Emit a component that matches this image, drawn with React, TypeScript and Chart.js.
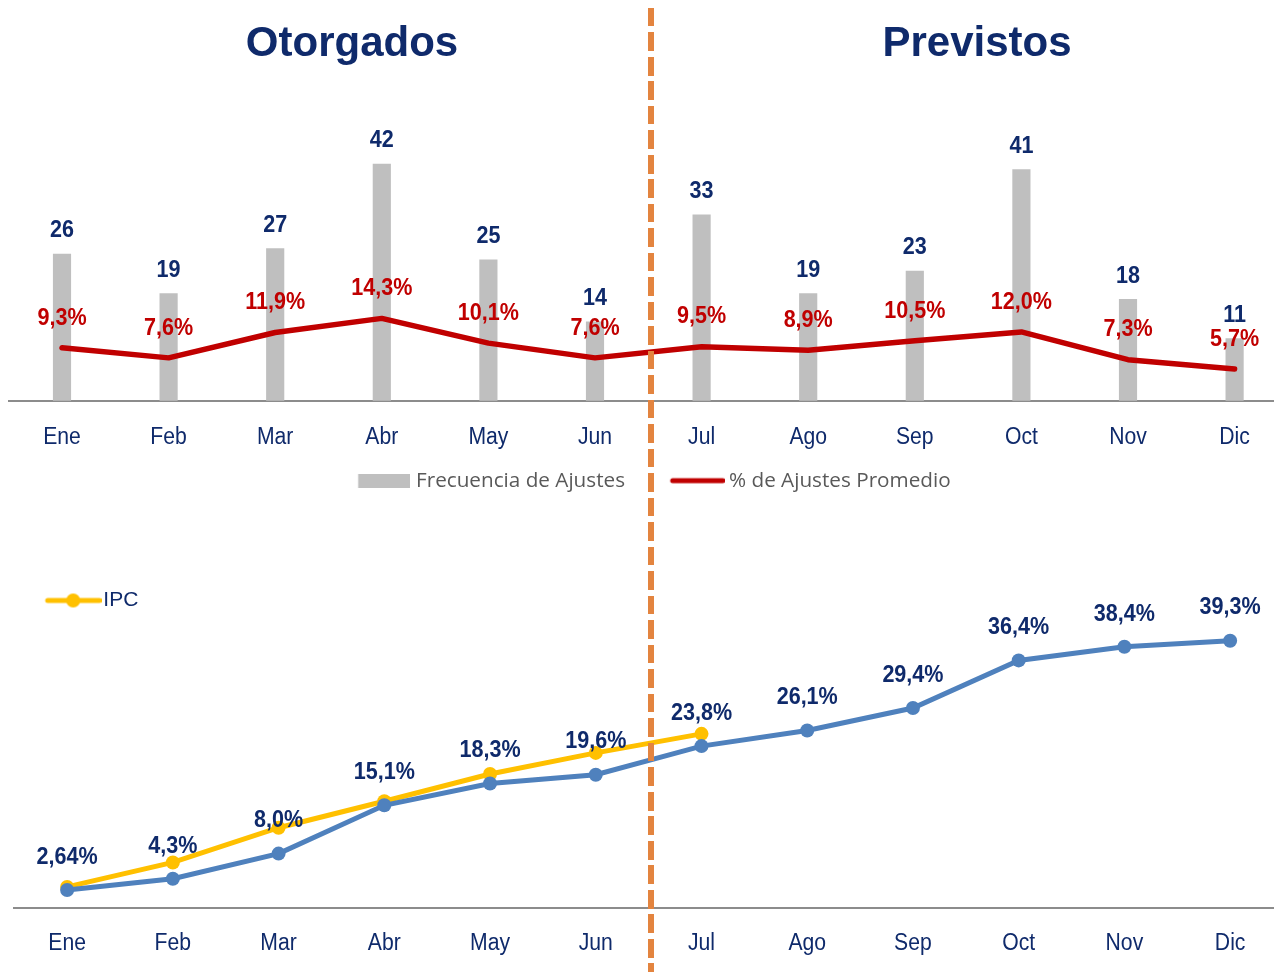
import React, { useEffect, useRef } from 'react';
import { Chart, registerables } from 'chart.js';

Chart.register(...registerables);

// ---------- data ----------
const months = ['Ene', 'Feb', 'Mar', 'Abr', 'May', 'Jun', 'Jul', 'Ago', 'Sep', 'Oct', 'Nov', 'Dic'];
const frecuenciaAjustes = [26, 19, 27, 42, 25, 14, 33, 19, 23, 41, 18, 11];
const ajustePromedio = [9.3, 7.6, 11.9, 14.3, 10.1, 7.6, 9.5, 8.9, 10.5, 12.0, 7.3, 5.7];
const ajusteAcumulado = [2.64, 4.3, 8.0, 15.1, 18.3, 19.6, 23.8, 26.1, 29.4, 36.4, 38.4, 39.3];
const ipc = [3.1, 6.7, 11.8, 15.7, 19.7, 22.8, 25.6, null, null, null, null, null];
const titles = ['Otorgados', 'Previstos'];
const legendTop = ['Frecuencia de Ajustes', '% de Ajustes Promedio'];
const legendBottom = ['IPC'];

// ---------- styles ----------
const NAVY = '#0F2A6B';
const RED = '#C00000';
const GRAY = '#BFBFBF';
const BLUE = '#4F81BD';
const YELLOW = '#FFC000';
const ORANGE = '#E3843F';
const AXIS = '#8C8C8C';
const SANS = '"Liberation Sans", Arial, sans-serif';
const LEGEND_FONT = '"Open Sans", "Noto Sans", sans-serif';
const LEGEND_SIZE = 20.7;
const CANVAS_W = 1290;

const pct = (v: number) => {
  const s = Math.abs(v * 10 - Math.round(v * 10)) < 1e-9 ? v.toFixed(1) : v.toFixed(2);
  return s.replace('.', ',') + '%';
};

function scaledText(ctx: CanvasRenderingContext2D, text: string, x: number, y: number, sx: number) {
  ctx.save();
  ctx.translate(x, y);
  ctx.scale(sx, 1);
  ctx.fillText(text, 0, 0);
  ctx.restore();
}

// value labels above bars / points (narrow bold look)
const valueLabels = {
  id: 'valueLabels',
  afterDatasetsDraw(chart: any) {
    const ctx = chart.ctx;
    chart.data.datasets.forEach((ds: any, i: number) => {
      const cfg = ds.valueLabel;
      if (!cfg) return;
      const meta = chart.getDatasetMeta(i);
      ctx.save();
      ctx.font = `bold 24.5px ${SANS}`;
      ctx.fillStyle = cfg.color;
      ctx.textAlign = 'center';
      ctx.textBaseline = 'middle';
      meta.data.forEach((el: any, j: number) => {
        const v = ds.data[j];
        if (v == null) return;
        scaledText(ctx, cfg.format(v), el.x, el.y - cfg.offset, 0.88);
      });
      ctx.restore();
    });
  },
};

// category labels of the x scale, drawn narrow at the scale's tick positions
const narrowTicks = (offset: number) => ({
  id: 'narrowTicks',
  afterDraw(chart: any) {
    const s = chart.scales.x;
    const ctx = chart.ctx;
    ctx.save();
    ctx.font = `23px ${SANS}`;
    ctx.fillStyle = NAVY;
    ctx.textAlign = 'center';
    ctx.textBaseline = 'middle';
    s.ticks.forEach((t: any, i: number) => {
      scaledText(ctx, String(s.getLabelForValue(t.value)), s.getPixelForTick(i), s.top + offset, 0.92);
    });
    ctx.restore();
  },
});

function makeCanvas(w: number, h: number, draw: (c: CanvasRenderingContext2D) => void) {
  const c = document.createElement('canvas');
  c.width = Math.max(1, Math.round(w));
  c.height = h;
  const ctx = c.getContext('2d')!;
  draw(ctx);
  return c;
}

export default function App() {
  const topRef = useRef<HTMLCanvasElement>(null);
  const botRef = useRef<HTMLCanvasElement>(null);

  useEffect(() => {
    // ---------- top chart ----------
    const padL = 8.7, padR = 2.1;
    const left = padL, right = CANVAS_W - padR;
    const m = document.createElement('canvas').getContext('2d')!;
    m.font = `${LEGEND_SIZE}px ${LEGEND_FONT}`;
    const t1 = m.measureText(legendTop[0]).width;
    const t2 = m.measureText(legendTop[1]).width;
    const h = LEGEND_SIZE / 2;
    const T1 = 416, T2 = 729;
    const p = Math.max(8, left + right - t1 - t2 - 2 * T1);
    const bW = Math.max(20, T2 - T1 - t1 - h - p);
    const c1 = T1 - h - bW / 2;
    const w1 = 2 * (410 - c1);
    const grayImg = makeCanvas(w1, 14, (ctx) => {
      ctx.fillStyle = GRAY;
      const x0 = 358 - (c1 - w1 / 2);
      ctx.fillRect(x0, 0, w1 - x0, 14);
    });
    const c2 = T2 - h - bW / 2;
    const w2 = 2 * (725 - c2);
    const redImg = makeCanvas(w2, 8, (ctx) => {
      const x0 = 670 - (c2 - w2 / 2);
      ctx.strokeStyle = RED;
      ctx.lineWidth = 5;
      ctx.lineCap = 'round';
      ctx.beginPath();
      ctx.moveTo(x0 + 2.5, 4);
      ctx.lineTo(w2 - 2.5, 4);
      ctx.stroke();
    });
    const legendTopY = 481 - h - p;
    const xAxisH = Math.max(1, legendTopY - 401);

    const top = new Chart(topRef.current!, {
      type: 'bar',
      data: {
        labels: months,
        datasets: [
          {
            type: 'line',
            label: legendTop[1],
            data: ajustePromedio,
            yAxisID: 'y2',
            borderColor: RED,
            backgroundColor: RED,
            borderWidth: 5.5,
            pointRadius: 0,
            pointHoverRadius: 0,
            borderCapStyle: 'round',
            borderJoinStyle: 'round',
            order: 0,
            valueLabel: { color: RED, offset: 30, format: pct },
          } as any,
          {
            type: 'bar',
            label: legendTop[0],
            data: frecuenciaAjustes,
            yAxisID: 'y',
            backgroundColor: GRAY,
            barThickness: 17.5,
            order: 1,
            valueLabel: { color: NAVY, offset: 23.5, format: (v: number) => String(v) },
          } as any,
        ],
      },
      options: {
        responsive: false,
        animation: false,
        devicePixelRatio: 1,
        layout: { padding: { left: padL, right: padR, top: 119, bottom: 0 } },
        scales: {
          x: {
            offset: true,
            grid: { display: false, drawTicks: false },
            border: { display: true, color: AXIS, width: 2 },
            ticks: { display: false, autoSkip: false, maxRotation: 0 },
            afterFit: (s: any) => { s.height = xAxisH; },
          },
          y: { display: false, min: 0, max: 50 },
          y2: { display: false, min: 0.34, max: 48.14, position: 'right' },
        },
        plugins: {
          tooltip: { enabled: false },
          legend: {
            position: 'bottom',
            align: 'center',
            onClick: () => {},
            labels: {
              usePointStyle: true,
              pointStyleWidth: bW,
              padding: p,
              color: '#595959',
              font: { family: LEGEND_FONT, size: LEGEND_SIZE, lineHeight: 1 },
              generateLabels: () => [
                { text: legendTop[0], pointStyle: grayImg, datasetIndex: 1, fillStyle: GRAY, strokeStyle: GRAY, lineWidth: 0, hidden: false, fontColor: '#595959', rotation: 0 } as any,
                { text: legendTop[1], pointStyle: redImg, datasetIndex: 0, fillStyle: RED, strokeStyle: RED, lineWidth: 0, hidden: false, fontColor: '#595959', rotation: 0 } as any,
              ],
            },
          },
        },
      } as any,
      plugins: [valueLabels, narrowTicks(37)],
    });

    // ---------- bottom chart ----------
    const bPadL = 14.25, bPadR = 2.5;
    const lp = 10;
    const bSize = 21;
    const boxX = bPadL + lp;
    const bBW = 103.3 - bSize / 2 - boxX;
    const cc = boxX + bBW / 2;
    const wi = 2 * (101.7 - cc);
    const imgLeft = cc - wi / 2;
    const ipcImg = makeCanvas(wi, 16, (ctx) => {
      ctx.strokeStyle = YELLOW;
      ctx.lineWidth = 5;
      ctx.lineCap = 'round';
      ctx.beginPath();
      ctx.moveTo(45 - imgLeft + 2.5, 8);
      ctx.lineTo(wi - 2.5, 8);
      ctx.stroke();
      ctx.fillStyle = YELLOW;
      ctx.beginPath();
      ctx.arc(73 - imgLeft, 8, 7, 0, Math.PI * 2);
      ctx.fill();
    });
    // legend item centre should sit at page y = 601
    const bCanvasTop = 601 - lp - bSize / 2;
    const bLegendH = bSize + lp + 10;
    const bAreaTop = bCanvasTop + bLegendH;
    const yMax = (908 - bAreaTop) / 6.79;

    const bottom = new Chart(botRef.current!, {
      type: 'line',
      data: {
        labels: months,
        datasets: [
          {
            label: 'Acumulado',
            data: ajusteAcumulado,
            borderColor: BLUE,
            backgroundColor: BLUE,
            borderWidth: 5,
            pointRadius: 7,
            pointHoverRadius: 7,
            pointBorderWidth: 0,
            pointBackgroundColor: BLUE,
            valueLabel: { color: NAVY, offset: 33, format: pct },
          } as any,
          {
            label: legendBottom[0],
            data: ipc,
            borderColor: YELLOW,
            backgroundColor: YELLOW,
            borderWidth: 5,
            pointRadius: 7,
            pointHoverRadius: 7,
            pointBorderWidth: 0,
            pointBackgroundColor: YELLOW,
            spanGaps: false,
          } as any,
        ],
      },
      options: {
        responsive: false,
        animation: false,
        devicePixelRatio: 1,
        layout: { padding: { left: bPadL, right: bPadR, top: 0, bottom: 0 } },
        scales: {
          x: {
            offset: true,
            grid: { display: false, drawTicks: false },
            border: { display: true, color: AXIS, width: 2 },
            ticks: { display: false, autoSkip: false, maxRotation: 0 },
            afterFit: (s: any) => { s.height = 972 - 908; },
          },
          y: { display: false, min: 0, max: yMax },
        },
        plugins: {
          tooltip: { enabled: false },
          legend: {
            position: 'top',
            align: 'start',
            onClick: () => {},
            labels: {
              usePointStyle: true,
              pointStyleWidth: bBW,
              padding: lp,
              color: NAVY,
              font: { family: SANS, size: bSize, lineHeight: 1 },
              generateLabels: () => [
                { text: legendBottom[0], pointStyle: ipcImg, datasetIndex: 1, fillStyle: YELLOW, strokeStyle: YELLOW, lineWidth: 0, hidden: false, fontColor: NAVY, rotation: 0 } as any,
              ],
            },
          },
        },
      } as any,
      plugins: [valueLabels, narrowTicks(36)],
    });

    return () => {
      top.destroy();
      bottom.destroy();
    };
  }, []);

  const titleStyle = (cx: number): React.CSSProperties => ({
    position: 'absolute',
    left: cx - 200,
    top: 21,
    width: 400,
    textAlign: 'center',
    font: `bold 42px ${SANS}`,
    lineHeight: '42px',
    color: NAVY,
    zIndex: 1,
  });

  return (
    <div style={{ position: 'fixed', left: 0, top: 0, width: 1274, height: 972, overflow: 'hidden', background: '#fff' }}>
      <div style={titleStyle(352)}>{titles[0]}</div>
      <div style={titleStyle(977)}>{titles[1]}</div>
      <canvas ref={topRef} width={CANVAS_W} height={501} style={{ position: 'absolute', left: 0, top: 0, width: CANVAS_W, height: 501 }} />
      <canvas ref={botRef} width={CANVAS_W} height={392} style={{ position: 'absolute', left: 0, top: 580, width: CANVAS_W, height: 392 }} />
      <div
        style={{
          position: 'absolute',
          left: 648,
          top: 8,
          width: 6,
          height: 964,
          background: `repeating-linear-gradient(to bottom, ${ORANGE} 0px, ${ORANGE} 18.5px, transparent 18.5px, transparent 24.5px)`,
          zIndex: 2,
        }}
      />
    </div>
  );
}
